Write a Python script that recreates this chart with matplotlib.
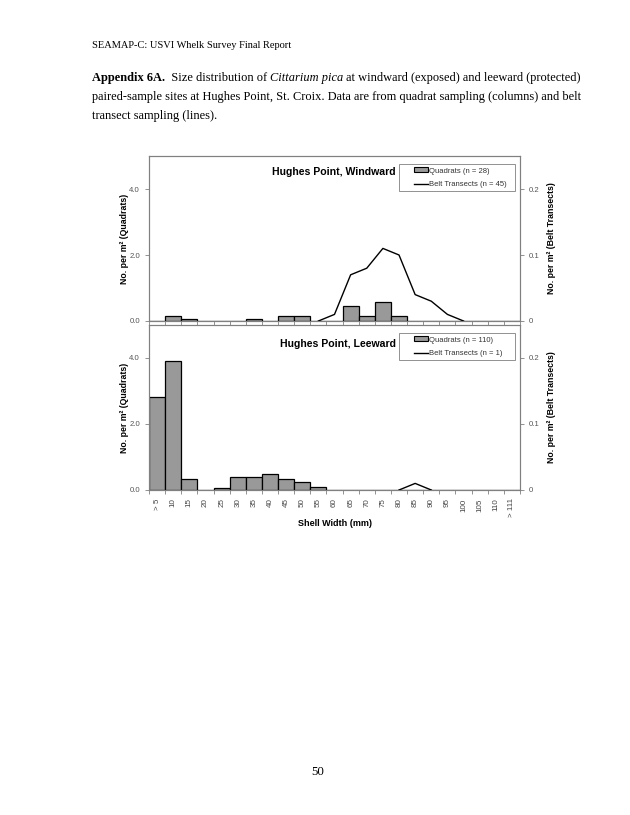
import numpy as np
import matplotlib.pyplot as plt
from matplotlib.patches import Patch, Rectangle
from matplotlib.lines import Line2D

size_labels = ['> 5', '10', '15', '20', '25', '30', '35', '40', '45', '50', '55', '60',
               '65', '70', '75', '80', '85', '90', '95', '100', '105', '110', '> 111']

# quadrat densities (left axis), belt transect densities (right axis)
windward_quadrats = [0, 0.14, 0.07, 0, 0, 0, 0.07, 0, 0.14, 0.14, 0, 0,
                     0.45, 0.14, 0.58, 0.14, 0, 0, 0, 0, 0, 0, 0]
windward_belt = [None, None, None, None, None, None, None, None, None, None, 0, 0.01,
                 0.07, 0.08, 0.11, 0.10, 0.04, 0.03, 0.01, 0, None, None, None]
leeward_quadrats = [2.83, 3.9, 0.32, 0, 0.07, 0.4, 0.4, 0.48, 0.32, 0.23, 0.08, 0,
                    0, 0, 0, 0, 0, 0, 0, 0, 0, 0, 0]
leeward_belt = [None, None, None, None, None, None, None, None, None, None, None, None,
                None, None, None, 0, 0.01, 0, None, None, None, None, None]

panels = [
    ('Hughes Point, Windward', windward_quadrats, windward_belt, 'Quadrats (n = 28)', 'Belt Transects (n = 45)'),
    ('Hughes Point, Leeward', leeward_quadrats, leeward_belt, 'Quadrats (n = 110)', 'Belt Transects (n = 1)'),
]

plt.rcParams['font.family'] = ['Liberation Sans', 'DejaVu Sans']

W, H = 630, 815
fig = plt.figure(figsize=(W / 100, H / 100), dpi=100)

serif = ['Liberation Serif', 'DejaVu Serif']

def px(x, y):
    return x / W, 1 - y / H

fig.text(*px(92, 45), 'SEAMAP-C: USVI Whelk Survey Final Report', family=serif,
         fontsize=7.5, va='center')

# caption with mixed styles, laid out piece by piece
renderer = fig.canvas.get_renderer()
def run(x, y, pieces):
    for txt, kw in pieces:
        t = fig.text(*px(x, y), txt, family=serif, fontsize=8.95, va='center', **kw)
        bb = t.get_window_extent(renderer=renderer)
        x += bb.width

run(92, 78, [('Appendix 6A.', {'weight': 'bold'}), ('  Size distribution of ', {}),
             ('Cittarium pica', {'style': 'italic'}),
             (' at windward (exposed) and leeward (protected)', {})])
run(92, 97, [('paired-sample sites at Hughes Point, St. Croix. Data are from quadrat sampling (columns) and belt', {})])
run(92, 116, [('transect sampling (lines).', {})])

fig.text(*px(318, 772), '50', family=serif, fontsize=9.3, ha='center', va='center')

x = np.arange(len(size_labels))
grey = '#808080'
tops = [156, 325]
title_y = [0.903, 0.885]
for k, (title, quad, belt, qlab, blab) in enumerate(panels):
    top = tops[k]
    bottom = top + 165
    ax = fig.add_axes([149 / W, 1 - bottom / H, (520 - 149) / W, 165 / H])
    ax.bar(x, quad, width=1.0, color='#999999', edgecolor='black', linewidth=0.9, zorder=3)
    ax.set_xlim(-0.5, len(size_labels) - 0.5)
    ax.set_ylim(0, 5.0)
    ax.set_yticks([0, 2, 4])
    ax.set_yticklabels(['0.0', '2.0', '4.0'])
    ax.set_xticks(np.arange(-0.5, len(size_labels)), minor=False)
    ax.set_xticklabels([])
    ax.set_xticks(x, minor=True)
    if k == 1:
        ax.set_xticklabels(size_labels, minor=True, rotation=90)
        ax.set_xlabel('Shell Width (mm)', fontsize=6.5, weight='bold', labelpad=1)
    ax.tick_params(axis='x', which='minor', length=0, labelsize=5.8, labelcolor='#444444', pad=6)
    ax.tick_params(axis='x', which='major', length=3, color=grey, width=0.6)
    ax.tick_params(axis='y', length=3, color=grey, width=0.6, labelsize=5.6, labelcolor='#555555')
    for s in ax.spines.values():
        s.set_color(grey)
        s.set_linewidth(0.8)
    ax.set_ylabel('No. per m² (Quadrats)', fontsize=6.3, weight='bold', labelpad=0.5)

    ax2 = ax.twinx()
    ax2.plot(x, np.array(belt, dtype=float), color='black', linewidth=1.0, zorder=4)
    ax2.set_ylim(0, 0.25)
    ax2.set_yticks([0, 0.1, 0.2])
    ax2.set_yticklabels(['0', '0.1', '0.2'])
    ax2.tick_params(axis='y', length=3, color=grey, width=0.6, labelsize=5.6, labelcolor='#555555')
    for s in ax2.spines.values():
        s.set_color(grey)
        s.set_linewidth(0.8)
    ax2.set_ylabel('No. per m² (Belt Transects)', fontsize=6.3, weight='bold', labelpad=5)

    ax2.text(0.666, title_y[k], title, transform=ax.transAxes, ha='right', va='center',
             fontsize=7.6, weight='bold')

    # legend box drawn separately, entries placed inside it
    ax2.add_patch(Rectangle((0.674, 0.785), 0.313, 0.165, transform=ax.transAxes,
                            facecolor='white', edgecolor=grey, linewidth=0.6, zorder=5))
    handles = [Patch(facecolor='#999999', edgecolor='black', linewidth=0.8),
               Line2D([], [], color='black', linewidth=1.0)]
    leg = ax2.legend(handles, [qlab, blab], loc='center left', bbox_to_anchor=(0.713, 0.868),
                     fontsize=5.5, frameon=False, handlelength=1.9, handleheight=0.6,
                     borderpad=0, labelspacing=0.85, handletextpad=0.1, borderaxespad=0)
    leg.set_zorder(6)
    for t in leg.get_texts():
        t.set_color('#333333')

fig.savefig('out.png', dpi=100)
